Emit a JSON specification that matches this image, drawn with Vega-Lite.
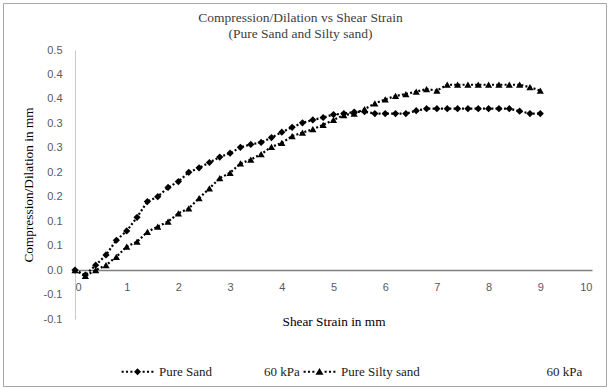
{
  "$schema": "https://vega.github.io/schema/vega-lite/v6.json",
  "width": 603,
  "height": 383,
  "autosize": {"type": "none"},
  "padding": {"left": 3, "top": 3, "right": 4, "bottom": 3},
  "background": "white",
  "title": {
    "text": ["Compression/Dilation vs Shear Strain", "(Pure Sand and Silty sand)"],
    "font": "Liberation Serif",
    "fontSize": 13.5,
    "fontWeight": "normal",
    "color": "#404040",
    "anchor": "middle",
    "frame": "group",
    "offset": -37,
    "dx": -4,
    "lineHeight": 16
  },
  "config": {"view": {"stroke": "#a6a6a6", "strokeWidth": 1}},
  "resolve": {"scale": {"shape": "independent"}, "legend": {"shape": "independent"}},
  "data": {
    "values": [
      {"x": 0, "y": 0, "series": "Pure Sand"},
      {"x": 0.2, "y": -0.01, "series": "Pure Sand"},
      {"x": 0.4, "y": 0.01, "series": "Pure Sand"},
      {"x": 0.6, "y": 0.031, "series": "Pure Sand"},
      {"x": 0.8, "y": 0.061, "series": "Pure Sand"},
      {"x": 1.0, "y": 0.08, "series": "Pure Sand"},
      {"x": 1.2, "y": 0.108, "series": "Pure Sand"},
      {"x": 1.4, "y": 0.14, "series": "Pure Sand"},
      {"x": 1.6, "y": 0.15, "series": "Pure Sand"},
      {"x": 1.8, "y": 0.169, "series": "Pure Sand"},
      {"x": 2.0, "y": 0.181, "series": "Pure Sand"},
      {"x": 2.2, "y": 0.2, "series": "Pure Sand"},
      {"x": 2.4, "y": 0.209, "series": "Pure Sand"},
      {"x": 2.6, "y": 0.22, "series": "Pure Sand"},
      {"x": 2.8, "y": 0.231, "series": "Pure Sand"},
      {"x": 3.0, "y": 0.239, "series": "Pure Sand"},
      {"x": 3.2, "y": 0.251, "series": "Pure Sand"},
      {"x": 3.4, "y": 0.257, "series": "Pure Sand"},
      {"x": 3.6, "y": 0.261, "series": "Pure Sand"},
      {"x": 3.8, "y": 0.271, "series": "Pure Sand"},
      {"x": 4.0, "y": 0.282, "series": "Pure Sand"},
      {"x": 4.2, "y": 0.292, "series": "Pure Sand"},
      {"x": 4.4, "y": 0.301, "series": "Pure Sand"},
      {"x": 4.6, "y": 0.307, "series": "Pure Sand"},
      {"x": 4.8, "y": 0.312, "series": "Pure Sand"},
      {"x": 5.0, "y": 0.318, "series": "Pure Sand"},
      {"x": 5.2, "y": 0.32, "series": "Pure Sand"},
      {"x": 5.4, "y": 0.323, "series": "Pure Sand"},
      {"x": 5.6, "y": 0.324, "series": "Pure Sand"},
      {"x": 5.8, "y": 0.32, "series": "Pure Sand"},
      {"x": 6.0, "y": 0.32, "series": "Pure Sand"},
      {"x": 6.2, "y": 0.32, "series": "Pure Sand"},
      {"x": 6.4, "y": 0.32, "series": "Pure Sand"},
      {"x": 6.6, "y": 0.326, "series": "Pure Sand"},
      {"x": 6.8, "y": 0.33, "series": "Pure Sand"},
      {"x": 7.0, "y": 0.33, "series": "Pure Sand"},
      {"x": 7.2, "y": 0.33, "series": "Pure Sand"},
      {"x": 7.4, "y": 0.33, "series": "Pure Sand"},
      {"x": 7.6, "y": 0.33, "series": "Pure Sand"},
      {"x": 7.8, "y": 0.33, "series": "Pure Sand"},
      {"x": 8.0, "y": 0.33, "series": "Pure Sand"},
      {"x": 8.2, "y": 0.33, "series": "Pure Sand"},
      {"x": 8.4, "y": 0.33, "series": "Pure Sand"},
      {"x": 8.6, "y": 0.325, "series": "Pure Sand"},
      {"x": 8.8, "y": 0.32, "series": "Pure Sand"},
      {"x": 9.0, "y": 0.32, "series": "Pure Sand"},
      {"x": 0, "y": 0, "series": "Pure Silty sand"},
      {"x": 0.2, "y": -0.012, "series": "Pure Silty sand"},
      {"x": 0.4, "y": 0.0, "series": "Pure Silty sand"},
      {"x": 0.6, "y": 0.01, "series": "Pure Silty sand"},
      {"x": 0.8, "y": 0.027, "series": "Pure Silty sand"},
      {"x": 1.0, "y": 0.048, "series": "Pure Silty sand"},
      {"x": 1.2, "y": 0.058, "series": "Pure Silty sand"},
      {"x": 1.4, "y": 0.078, "series": "Pure Silty sand"},
      {"x": 1.6, "y": 0.089, "series": "Pure Silty sand"},
      {"x": 1.8, "y": 0.099, "series": "Pure Silty sand"},
      {"x": 2.0, "y": 0.116, "series": "Pure Silty sand"},
      {"x": 2.2, "y": 0.126, "series": "Pure Silty sand"},
      {"x": 2.4, "y": 0.147, "series": "Pure Silty sand"},
      {"x": 2.6, "y": 0.167, "series": "Pure Silty sand"},
      {"x": 2.8, "y": 0.188, "series": "Pure Silty sand"},
      {"x": 3.0, "y": 0.199, "series": "Pure Silty sand"},
      {"x": 3.2, "y": 0.218, "series": "Pure Silty sand"},
      {"x": 3.4, "y": 0.226, "series": "Pure Silty sand"},
      {"x": 3.6, "y": 0.237, "series": "Pure Silty sand"},
      {"x": 3.8, "y": 0.252, "series": "Pure Silty sand"},
      {"x": 4.0, "y": 0.26, "series": "Pure Silty sand"},
      {"x": 4.2, "y": 0.274, "series": "Pure Silty sand"},
      {"x": 4.4, "y": 0.281, "series": "Pure Silty sand"},
      {"x": 4.6, "y": 0.288, "series": "Pure Silty sand"},
      {"x": 4.8, "y": 0.297, "series": "Pure Silty sand"},
      {"x": 5.0, "y": 0.307, "series": "Pure Silty sand"},
      {"x": 5.2, "y": 0.317, "series": "Pure Silty sand"},
      {"x": 5.4, "y": 0.32, "series": "Pure Silty sand"},
      {"x": 5.6, "y": 0.329, "series": "Pure Silty sand"},
      {"x": 5.8, "y": 0.341, "series": "Pure Silty sand"},
      {"x": 6.0, "y": 0.349, "series": "Pure Silty sand"},
      {"x": 6.2, "y": 0.356, "series": "Pure Silty sand"},
      {"x": 6.4, "y": 0.36, "series": "Pure Silty sand"},
      {"x": 6.6, "y": 0.365, "series": "Pure Silty sand"},
      {"x": 6.8, "y": 0.37, "series": "Pure Silty sand"},
      {"x": 7.0, "y": 0.367, "series": "Pure Silty sand"},
      {"x": 7.2, "y": 0.379, "series": "Pure Silty sand"},
      {"x": 7.4, "y": 0.379, "series": "Pure Silty sand"},
      {"x": 7.6, "y": 0.379, "series": "Pure Silty sand"},
      {"x": 7.8, "y": 0.379, "series": "Pure Silty sand"},
      {"x": 8.0, "y": 0.379, "series": "Pure Silty sand"},
      {"x": 8.2, "y": 0.379, "series": "Pure Silty sand"},
      {"x": 8.4, "y": 0.379, "series": "Pure Silty sand"},
      {"x": 8.6, "y": 0.379, "series": "Pure Silty sand"},
      {"x": 8.8, "y": 0.374, "series": "Pure Silty sand"},
      {"x": 9.0, "y": 0.367, "series": "Pure Silty sand"}
    ]
  },
  "encoding": {
    "x": {
      "field": "x",
      "type": "quantitative",
      "scale": {"domain": [0, 10], "range": [72, 589], "nice": false, "zero": false},
      "axis": {
        "title": "Shear Strain in mm",
        "values": [0, 1, 2, 3, 4, 5, 6, 7, 8, 9, 10],
        "offset": -116,
        "grid": false,
        "ticks": false,
        "domainColor": "#808080",
        "domainWidth": 1.5,
        "labelPadding": 11,
        "labelFont": "Liberation Sans",
        "labelFontSize": 11,
        "labelColor": "#595959",
        "titleFont": "Liberation Serif",
        "titleFontSize": 13.3,
        "titleFontWeight": "normal",
        "titleColor": "#000000",
        "titlePadding": 22
      }
    },
    "y": {
      "field": "y",
      "type": "quantitative",
      "scale": {"domain": [-0.1, 0.45], "range": [316, 47], "nice": false, "zero": false},
      "axis": {
        "title": "Compression/Dilation in mm",
        "values": [-0.1, -0.05, 0, 0.05, 0.1, 0.15, 0.2, 0.25, 0.3, 0.35, 0.4, 0.45],
        "labelExpr": "(datum.value < 0 ? '-' : '') + format(floor(abs(datum.value) * 10 + 0.5 + 0.000001) / 10, '.1f')",
        "offset": -72,
        "grid": false,
        "ticks": false,
        "domainColor": "#c8c8c8",
        "domainWidth": 1,
        "labelPadding": 13,
        "labelFont": "Liberation Sans",
        "labelFontSize": 11,
        "labelColor": "#595959",
        "titleFont": "Liberation Serif",
        "titleFontSize": 13.3,
        "titleFontWeight": "normal",
        "titleColor": "#000000",
        "titlePadding": 8
      }
    }
  },
  "layer": [
    {
      "mark": {"type": "line", "color": "#000000", "strokeWidth": 2.2, "strokeDash": [2, 2.2], "strokeCap": "butt"},
      "encoding": {"detail": {"field": "series", "type": "nominal"}}
    },
    {
      "mark": {"type": "point", "filled": true, "color": "#000000", "size": 52, "opacity": 1},
      "encoding": {
        "shape": {
          "field": "series",
          "type": "nominal",
          "scale": {"domain": ["Pure Sand", "Pure Silty sand"], "range": ["diamond", "triangle-up"]},
          "legend": null
        }
      }
    },
    {
      "mark": {"type": "point", "filled": true, "color": "#000000", "size": 1225, "opacity": 0},
      "encoding": {
        "shape": {
          "field": "series",
          "type": "nominal",
          "scale": {
            "domain": ["Pure Sand", "Pure Silty sand"],
            "range": [
              "M-0.91,-0.06h0.12v0.12h-0.12Z M-0.66,-0.06h0.12v0.12h-0.12Z M-0.41,-0.06h0.12v0.12h-0.12Z M0.29,-0.06h0.12v0.12h-0.12Z M0.54,-0.06h0.12v0.12h-0.12Z M0.79,-0.06h0.12v0.12h-0.12Z M0,-0.2L0.2,0L0,0.2L-0.2,0Z",
              "M-0.91,-0.06h0.12v0.12h-0.12Z M-0.66,-0.06h0.12v0.12h-0.12Z M-0.41,-0.06h0.12v0.12h-0.12Z M0.29,-0.06h0.12v0.12h-0.12Z M0.54,-0.06h0.12v0.12h-0.12Z M0.79,-0.06h0.12v0.12h-0.12Z M0,-0.21L0.23,0.17L-0.23,0.17Z"
            ]
          },
          "legend": {
            "title": null,
            "orient": "none",
            "legendX": 117,
            "legendY": 351,
            "direction": "horizontal",
            "symbolSize": 1225,
            "symbolOpacity": 1,
            "symbolFillColor": "#000000",
            "symbolStrokeWidth": 0,
            "labelFont": "Liberation Serif",
            "labelFontSize": 13,
            "labelColor": "#1a1a1a",
            "labelOffset": 4,
            "columnPadding": 2,
            "labelLimit": 400,
            "labelExpr": "datum.value == 'Pure Sand' ? 'Pure Sand\u00a0\u00a0\u00a0\u00a0\u00a0\u00a0\u00a0\u00a0\u00a0\u00a0\u00a0\u00a0\u00a0\u00a0\u00a0\u00a060 kPa' : 'Pure Silty sand\u00a0\u00a0\u00a0\u00a0\u00a0\u00a0\u00a0\u00a0\u00a0\u00a0\u00a0\u00a0\u00a0\u00a0\u00a0\u00a0\u00a0\u00a0\u00a0\u00a0\u00a0\u00a0\u00a0\u00a0\u00a0\u00a0\u00a0\u00a0\u00a0\u00a0\u00a0\u00a0\u00a0\u00a0\u00a0\u00a0\u00a0\u00a0\u00a060 kPa'"
          }
        }
      }
    }
  ]
}
